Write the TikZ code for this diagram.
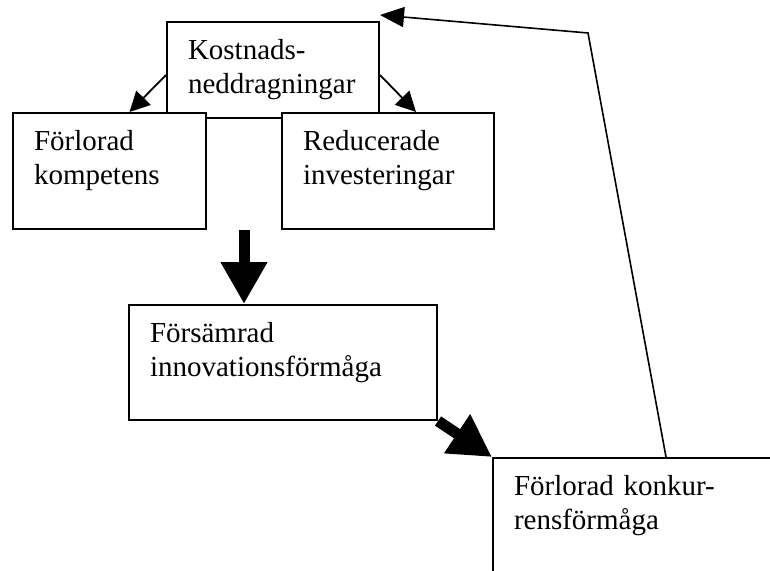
\documentclass[tikz,border=0pt]{standalone}
\usepackage{fontspec}
\setmainfont{Liberation Serif}
\usetikzlibrary{arrows.meta,calc}
\begin{document}
\begin{tikzpicture}[x=1pt,y=-1pt,
  box/.style={draw, line width=2pt, fill=white, anchor=north west, align=left,
    inner xsep=21pt, inner ysep=0pt, text height=37pt, font=\fontsize{29}{34}\selectfont},
  pil/.style={line width=1.8pt, -{Triangle[length=20pt,width=20pt]}},
  storpil/.style={line width=11pt, -{Triangle[length=42pt,width=44pt]}}]
\clip (0,0) rectangle (770,570);
% top box first, the two below overlap it
\node[box, text width=170pt, text depth=59pt] (kost) at (166,21) {Kostnads-\\neddragningar};
\node[box, text width=151pt, text depth=79pt] (komp) at (12,112) {Förlorad\\kompetens};
\node[box, text width=170pt, text depth=79pt] (inves) at (281,112) {Reducerade\\investeringar};
\node[box, text width=266pt, text depth=78pt] (innov) at (128,304) {Försämrad\\innovationsförmåga};
\node[box, text width=300pt, text depth=120pt] (konk) at (492,457) {Förlorad konkur-\\rensförmåga};
\draw[pil] ([yshift=-5pt]kost.west) -- ([xshift=20pt]komp.north);
\draw[pil] ([yshift=-5pt]kost.east) -- ([xshift=28pt]inves.north);
\coordinate (mitt) at ($(komp.south east)!.5!(inves.south west)$);
\draw[storpil] (mitt) -- (mitt |- innov.north);
\draw[storpil] (innov.south east) -- (konk.north west);
% feedback loop back to the top
\coordinate (knick) at (588,33);
\draw[line width=1.6pt, -{Triangle[length=24pt,width=20pt]}] ([xshift=174pt]konk.north west) -- (knick) -- ([yshift=6pt]kost.north east);
\end{tikzpicture}
\end{document}
